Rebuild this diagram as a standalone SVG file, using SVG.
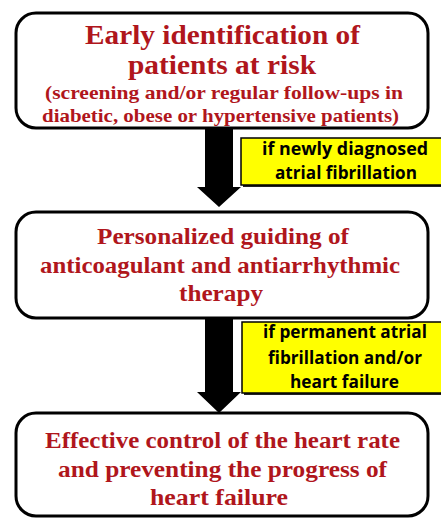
<svg xmlns="http://www.w3.org/2000/svg" width="441" height="518" viewBox="0 0 441 518">
<defs>
<style>
.box{fill:#fff;stroke:#000;stroke-width:3}
.t{font-family:"Liberation Serif","Times New Roman",serif;font-weight:bold;fill:#b0161c}
.lab{fill:#ffff00;stroke:#000;stroke-width:1.5}
.sh{fill:#222}
.lt{font-family:"Open Sans","Liberation Sans",sans-serif;font-weight:bold;fill:#000;font-size:17px}
.arr{fill:#000}
</style>
</defs>
<rect width="441" height="518" fill="#fff"/>
<g id="box1">
<rect class="box" x="16" y="13" width="412" height="115" rx="20"/>
<text class="t" x="85" y="44" font-size="28" textLength="275" lengthAdjust="spacingAndGlyphs">Early identification of</text>
<text class="t" x="128" y="74" font-size="28" textLength="188" lengthAdjust="spacingAndGlyphs">patients at risk</text>
<text class="t" x="45" y="99" font-size="19" textLength="358" lengthAdjust="spacingAndGlyphs">(screening and/or regular follow-ups in</text>
<text class="t" x="42" y="122" font-size="19" textLength="357" lengthAdjust="spacingAndGlyphs">diabetic, obese or hypertensive patients)</text>
</g>
<g id="box2">
<rect class="box" x="16" y="212" width="412" height="106" rx="20"/>
<text class="t" x="97" y="244" font-size="24" textLength="252" lengthAdjust="spacingAndGlyphs">Personalized guiding of</text>
<text class="t" x="40" y="273" font-size="24" textLength="360" lengthAdjust="spacingAndGlyphs">anticoagulant and antiarrhythmic</text>
<text class="t" x="179" y="301" font-size="24" textLength="84" lengthAdjust="spacingAndGlyphs">therapy</text>
</g>
<g id="box3">
<rect class="box" x="16" y="413" width="412" height="103" rx="20"/>
<text class="t" x="45" y="448" font-size="24" textLength="355" lengthAdjust="spacingAndGlyphs">Effective control of the heart rate</text>
<text class="t" x="58" y="477" font-size="24" textLength="329" lengthAdjust="spacingAndGlyphs">and preventing the progress of</text>
<text class="t" x="150" y="505" font-size="24" textLength="138" lengthAdjust="spacingAndGlyphs">heart failure</text>
</g>
<g id="connectors">
<polygon class="arr" points="205,128 233,128 233,187 241,187 219,207 197,187 205,187"/>
<polygon class="arr" points="205,318 233,318 233,392 241,392 219,413 197,392 205,392"/>
</g>
<g id="label1">
<rect class="sh" x="243" y="140" width="200" height="47"/>
<rect class="lab" x="241" y="138" width="202" height="47"/>
<text class="lt" x="262" y="155" textLength="166" lengthAdjust="spacingAndGlyphs">if  newly diagnosed</text>
<text class="lt" x="275" y="179" textLength="142" lengthAdjust="spacingAndGlyphs">atrial fibrillation</text>
</g>
<g id="label2">
<rect class="sh" x="244" y="324" width="200" height="71"/>
<rect class="lab" x="242" y="322" width="202" height="71"/>
<text class="lt" x="263" y="338" textLength="164" lengthAdjust="spacingAndGlyphs">if  permanent atrial</text>
<text class="lt" x="268" y="364" textLength="154" lengthAdjust="spacingAndGlyphs">fibrillation and/or</text>
<text class="lt" x="290" y="388" textLength="109" lengthAdjust="spacingAndGlyphs">heart failure</text>
</g>
</svg>
